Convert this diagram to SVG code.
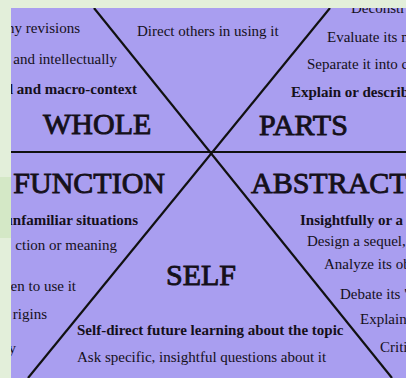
<svg xmlns="http://www.w3.org/2000/svg" width="406" height="378" viewBox="0 0 406 378">
  <defs>
    <clipPath id="panel">
      <rect x="11" y="8" width="395" height="370"/>
    </clipPath>
    <style>
      text { font-family: "Liberation Serif", "Times New Roman", serif; fill: #15101a; }
      .t { font-size: 15px; }
      .b { font-size: 15px; font-weight: bold; }
      .big { font-size: 30px; stroke: #15101a; stroke-width: 0.9; }
      .e { text-anchor: end; }
      .ln { stroke: #111; stroke-width: 2.2; fill: none; stroke-linecap: butt; }
    </style>
  </defs>
  <rect x="0" y="0" width="406" height="378" fill="#e3efda"/>
  <rect x="0" y="177" width="11" height="61" fill="#d4e8c6"/>
  <g clip-path="url(#panel)">
    <rect x="11" y="8" width="395" height="370" fill="#a99ef0"/>
    <g id="connectors">
      <line class="ln" x1="11" y1="152" x2="406" y2="152"/>
      <line class="ln" x1="94" y1="8" x2="392" y2="378"/>
      <line class="ln" x1="330" y1="8" x2="28" y2="378"/>
    </g>
    <g id="whole">
      <text class="t e" x="80" y="33">ny revisions</text>
      <text class="t e" x="117" y="64">and intellectually</text>
      <text class="b e" x="137" y="94">l and macro-context</text>
      <text class="big" x="43" y="134">WHOLE</text>
    </g>
    <g id="direct">
      <text class="t" x="137" y="36">Direct others in using it</text>
    </g>
    <g id="parts">
      <text class="t" x="351" y="12.5">Deconstr</text>
      <text class="t" x="327" y="42">Evaluate its m</text>
      <text class="t" x="307" y="69">Separate it into c</text>
      <text class="b" x="291" y="97">Explain or describ</text>
      <text class="big" x="259" y="135">PARTS</text>
    </g>
    <g id="function">
      <text class="big e" x="165" y="193">FUNCTION</text>
      <text class="b e" x="138" y="225">unfamiliar situations</text>
      <text class="t e" x="117" y="250">ction or meaning</text>
      <text class="t e" x="76" y="291">en to use it</text>
      <text class="t e" x="47" y="319">rigins</text>
      <text class="t e" x="16" y="353">y</text>
    </g>
    <g id="abstract">
      <text class="big" x="251" y="193">ABSTRACT</text>
      <text class="b" x="300" y="225">Insightfully or a</text>
      <text class="t" x="307" y="246">Design a sequel,</text>
      <text class="t" x="324" y="269">Analyze its ob</text>
      <text class="t" x="340" y="299">Debate its '</text>
      <text class="t" x="360" y="324">Explain</text>
      <text class="t" x="380" y="352">Criti</text>
    </g>
    <g id="self">
      <text class="big" x="166" y="285">SELF</text>
      <text class="b" x="77" y="335">Self-direct future learning about the topic</text>
      <text class="t" x="77" y="362">Ask specific, insightful questions about it</text>
    </g>
  </g>
</svg>
